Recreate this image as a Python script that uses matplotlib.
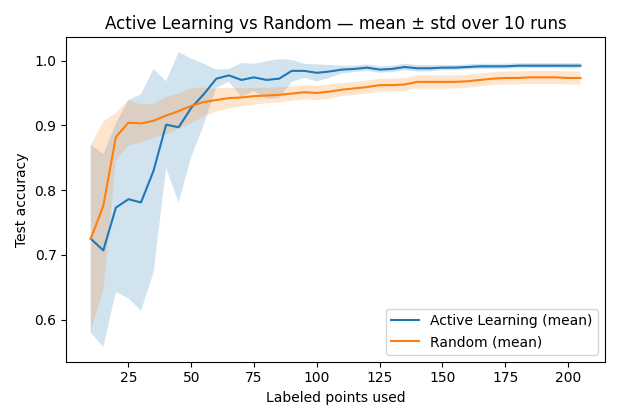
import numpy as np
import matplotlib
matplotlib.use("Agg")
import matplotlib.pyplot as plt

n_labeled = np.arange(10, 210, 5)

al_mean = [0.725, 0.707, 0.773, 0.786, 0.781, 0.830, 0.901, 0.897, 0.927, 0.948,
           0.972, 0.977, 0.970, 0.974, 0.970, 0.972, 0.984, 0.984, 0.981, 0.983,
           0.986, 0.987, 0.989, 0.986, 0.987, 0.990, 0.988, 0.988, 0.989, 0.989,
           0.990, 0.991, 0.991, 0.991, 0.992, 0.992, 0.992, 0.992, 0.992, 0.992]
al_std = [0.145, 0.149, 0.130, 0.153, 0.167, 0.157, 0.067, 0.116, 0.076, 0.047,
          0.014, 0.010, 0.026, 0.021, 0.029, 0.030, 0.017, 0.011, 0.013, 0.010,
          0.006, 0.005, 0.005, 0.005, 0.005, 0.005, 0.005, 0.005, 0.004, 0.004,
          0.004, 0.004, 0.004, 0.004, 0.004, 0.004, 0.004, 0.004, 0.004, 0.004]

rnd_mean = [0.725, 0.776, 0.882, 0.904, 0.903, 0.907, 0.915, 0.922, 0.930, 0.936,
            0.939, 0.942, 0.943, 0.945, 0.946, 0.947, 0.949, 0.951, 0.950, 0.952,
            0.955, 0.957, 0.959, 0.962, 0.962, 0.963, 0.967, 0.967, 0.967, 0.967,
            0.968, 0.970, 0.972, 0.973, 0.973, 0.974, 0.974, 0.974, 0.973, 0.973]
rnd_std = [0.144, 0.130, 0.037, 0.035, 0.029, 0.026, 0.029, 0.027, 0.027, 0.022,
           0.018, 0.016, 0.014, 0.013, 0.012, 0.012, 0.011, 0.011, 0.011, 0.011,
           0.010, 0.010, 0.010, 0.010, 0.010, 0.010, 0.010, 0.010, 0.010, 0.010,
           0.010, 0.010, 0.010, 0.010, 0.010, 0.010, 0.010, 0.010, 0.010, 0.010]

al_mean = np.array(al_mean)
al_std = np.array(al_std)
rnd_mean = np.array(rnd_mean)
rnd_std = np.array(rnd_std)

fig, ax = plt.subplots(figsize=(6.2, 4.2), dpi=100)
ax.plot(n_labeled, al_mean, label="Active Learning (mean)")
ax.fill_between(n_labeled, al_mean - al_std, al_mean + al_std, alpha=0.2)
ax.plot(n_labeled, rnd_mean, label="Random (mean)")
ax.fill_between(n_labeled, rnd_mean - rnd_std, rnd_mean + rnd_std, alpha=0.2)
ax.set_xlabel("Labeled points used")
ax.set_ylabel("Test accuracy")
ax.set_title("Active Learning vs Random — mean ± std over 10 runs")
ax.legend(loc="lower right")
fig.tight_layout()
fig.savefig("out.png")
